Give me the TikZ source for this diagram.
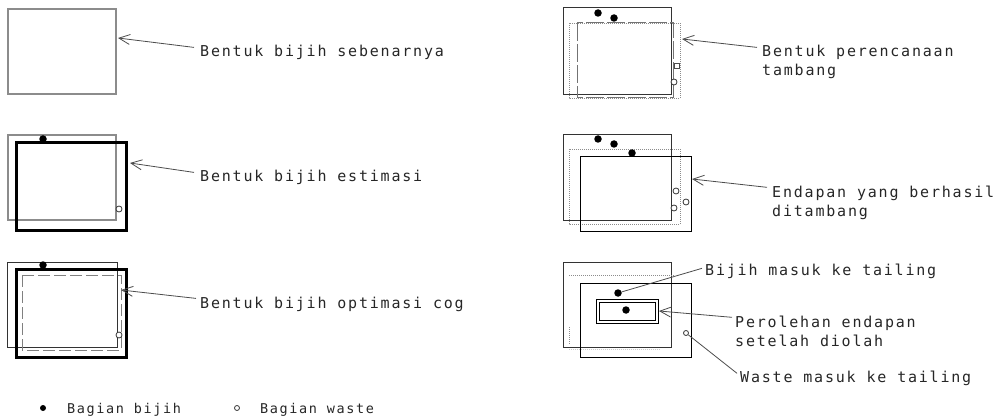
\documentclass[tikz,border=0pt]{standalone}
\usepackage{fontspec}
\newfontfamily\cadfont[LetterSpace=12]{DejaVu Sans Mono}
\usetikzlibrary{arrows.meta}

\begin{document}
\begin{tikzpicture}[x=1pt,y=-1pt,
  lbl/.style={anchor=base west,inner sep=0pt,align=left,text=black!85,
    font=\cadfont\fontsize{15}{19}\selectfont},
  legendlbl/.style={lbl,font=\cadfont\fontsize{13.5}{16}\selectfont},
  leader/.style={draw=black!70,line width=0.8pt},
  pointer/.style={leader,{Straight Barb[length=11pt,width=10pt]}-},
  truebox/.style={draw=black!45,line width=1.2pt},
  thinbox/.style={draw=black!80,line width=1pt},
  estbox/.style={draw=black,line width=3pt},
  cogbox/.style={draw=black!50,line width=1pt,dash pattern=on 12pt off 4pt},
  planbox/.style={draw=black!55,line width=1pt,dash pattern=on 18pt off 3pt},
  dotbox/.style={draw=black!45,line width=0.8pt,dash pattern=on 1pt off 1pt},
  ore/.style={circle,fill=black,inner sep=0pt,minimum size=7.5pt},
  waste/.style={circle,draw=black!80,fill=white,line width=0.8pt,inner sep=0pt,minimum size=6pt}]
\useasboundingbox (0,0) rectangle (994,417);

% kiri
\draw[truebox] (8,9) rectangle (116,94);
\coordinate (tip1) at (118,38);
\node[lbl] (sebenarnya) at (200,57) {Bentuk bijih sebenarnya};
\draw[pointer] (tip1) -- ([xshift=-6pt,yshift=-2pt]sebenarnya.north west);

\draw[truebox] (8,135) rectangle (116,220);
\draw[estbox] (16,143) rectangle (126,230);
\node[ore] (ore2) at (43,139) {};
\node[waste] (waste2) at (119,209) {};
\coordinate (tip2) at (130,163);
\node[lbl] (estimasi) at (200,182) {Bentuk bijih estimasi};
\draw[pointer] (tip2) -- ([xshift=-6pt,yshift=-2pt]estimasi.north west);

\draw[thinbox] (7,262) rectangle (117,347);
\draw[estbox] (16,269) rectangle (126,357);
\draw[cogbox] (22,275) rectangle (121,350);
\node[ore] (ore3) at (43,265) {};
\node[waste] (waste3) at (119,335) {};
\coordinate (tip3) at (121,290);
\node[lbl] (optimasi) at (200,308) {Bentuk bijih optimasi cog};
\draw[pointer] (tip3) -- ([xshift=-4pt,yshift=-2pt]optimasi.north west);

% legenda
\node[ore,minimum size=6pt] (legore) at (43,408) {};
\node[legendlbl] (legorelbl) at (67,413) {Bagian bijih};
\node[waste,minimum size=5pt] (legwaste) at (237,408) {};
\node[legendlbl] (legwastelbl) at (260,413) {Bagian waste};

% kanan
\draw[thinbox] (563,8) rectangle (671,95);
\draw[dotbox] (569,23) rectangle (680,98);
\draw[planbox] (577,23) rectangle (673,98);
\node[ore] (ore4a) at (598,13) {};
\node[ore] (ore4b) at (614,18) {};
\node[draw=black!70,fill=white,line width=0.8pt,inner sep=0pt,minimum size=5pt] (waste4a) at (677,66) {};
\node[waste] (waste4b) at (674,82) {};
\coordinate (tip4) at (682,39);
\node[lbl] (rencana) at (762,76) {Bentuk perencanaan\\tambang};
\draw[pointer] (tip4) -- ([xshift=-5pt,yshift=-2pt]rencana.north west);

\draw[thinbox] (563,135) rectangle (671,220);
\draw[dotbox] (569,149) rectangle (680,224);
\draw[thinbox,draw=black] (580,157) rectangle (691,231);
\node[ore] (ore5a) at (598,139) {};
\node[ore] (ore5b) at (614,144) {};
\node[ore] (ore5c) at (632,153) {};
\node[waste] (waste5a) at (676,191) {};
\node[waste] (waste5b) at (686,202) {};
\node[waste] (waste5c) at (674,208) {};
\coordinate (tip5) at (692,179);
\node[lbl] (ditambang) at (772,216) {Endapan yang berhasil\\ditambang};
\draw[pointer] (tip5) -- ([xshift=-5pt,yshift=-2pt]ditambang.north west);

\draw[thinbox] (563,262) rectangle (671,347);
\draw[thinbox,draw=black] (580,283) rectangle (691,357);
\draw[dotbox] (569,275) -- (674,275);
\draw[dotbox] (569,327) -- (569,344);
\draw[dotbox,draw=black!20] (569,349) -- (660,349);
\draw[draw=black,double=white,double distance=1.2pt,line width=1.6pt] (598,301) rectangle (657,322);
\node[ore] (ore6a) at (618,293) {};
\node[ore] (ore6b) at (626,310) {};
\node[waste,minimum size=5pt] (waste6) at (686,333) {};
\coordinate (tip6) at (659,311);
\node[lbl] (bijihtailing) at (705,275) {Bijih masuk ke tailing};
\node[lbl] (perolehan) at (735,346) {Perolehan endapan\\setelah diolah};
\node[lbl] (wastetailing) at (740,382) {Waste masuk ke tailing};
\draw[leader] (ore6a) -- ([xshift=-3pt,yshift=-5pt]bijihtailing.north west);
\draw[pointer] (tip6) -- ([xshift=-3pt,yshift=-2pt]perolehan.north west);
\draw[leader] (waste6) -- ([xshift=-3pt,yshift=-3pt]wastetailing.north west);
\end{tikzpicture}
\end{document}
